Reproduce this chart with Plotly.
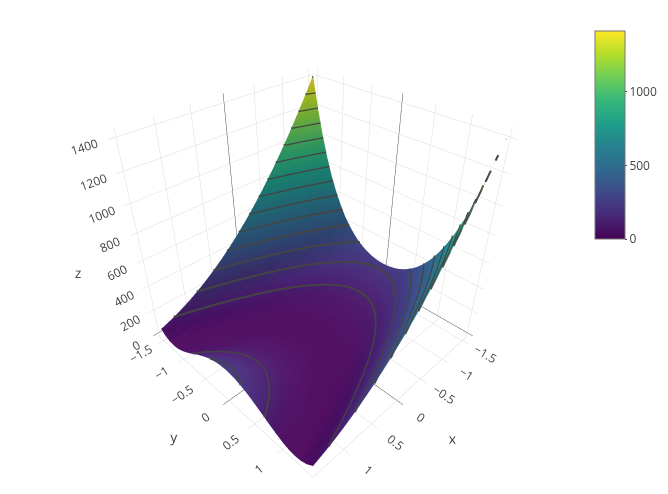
import plotly.graph_objects as go

x = [-1.5, -1.4, -1.3, -1.2, -1.1, -1.0, -0.9, -0.8, -0.7, -0.6, -0.5, -0.4, -0.3, -0.2, -0.1, 0.0,
     0.1, 0.2, 0.3, 0.4, 0.5, 0.6, 0.7, 0.8, 0.9, 1.0, 1.1, 1.2, 1.3, 1.4, 1.5]
y = list(x)
# one row per y value, one column per x value
z = [
    [1412, 1338, 1266, 1196, 1128, 1062, 998, 936, 876, 818, 762, 708, 656, 606, 558, 512, 468, 426, 386, 348, 312, 278, 246, 216, 188, 162, 138, 116, 96, 78, 62],
    [1203, 1135, 1069, 1005, 942, 882, 824, 768, 714, 661, 611, 563, 517, 473, 430, 390, 352, 316, 282, 249, 219, 191, 165, 141, 118, 98, 80, 64, 50, 37, 27],
    [1023, 960, 899, 840, 783, 729, 676, 625, 576, 529, 485, 442, 401, 362, 325, 291, 258, 227, 198, 171, 147, 124, 103, 84, 67, 53, 40, 29, 20, 13, 9],
    [869, 812, 756, 702, 650, 600, 553, 507, 463, 421, 381, 344, 308, 274, 242, 212, 185, 159, 135, 113, 93, 76, 60, 46, 34, 24, 17, 11, 7, 5, 5],
    [738, 685, 634, 585, 538, 492, 449, 408, 369, 332, 296, 263, 232, 203, 176, 150, 127, 106, 87, 70, 54, 41, 30, 21, 14, 8, 5, 4, 5, 8, 12],
    [629, 580, 533, 488, 445, 404, 365, 328, 293, 260, 229, 200, 173, 148, 125, 104, 85, 68, 53, 40, 29, 20, 13, 8, 5, 4, 5, 8, 13, 20, 29],
    [538, 492, 449, 408, 369, 332, 296, 263, 232, 203, 176, 150, 127, 106, 87, 70, 54, 41, 30, 21, 14, 8, 5, 4, 5, 8, 12, 19, 28, 39, 52],
    [461, 419, 379, 342, 306, 272, 240, 210, 183, 157, 133, 111, 91, 74, 58, 44, 32, 22, 15, 9, 5, 3, 3, 6, 10, 16, 24, 34, 47, 61, 77],
    [399, 360, 323, 289, 256, 225, 196, 169, 145, 122, 101, 82, 65, 51, 38, 27, 18, 11, 7, 4, 3, 4, 7, 13, 20, 29, 40, 53, 69, 86, 105],
    [349, 313, 279, 246, 216, 188, 162, 138, 115, 95, 77, 61, 47, 34, 24, 16, 10, 6, 3, 3, 5, 9, 15, 22, 32, 44, 58, 74, 91, 111, 133],
    [308, 274, 242, 212, 184, 158, 134, 112, 92, 74, 58, 44, 32, 22, 14, 8, 4, 2, 2, 4, 8, 14, 22, 32, 44, 58, 74, 92, 112, 134, 158],
    [278, 245, 215, 187, 161, 137, 114, 94, 76, 60, 46, 33, 23, 15, 9, 5, 2, 2, 4, 8, 14, 21, 31, 43, 57, 73, 90, 110, 132, 156, 182],
    [255, 224, 195, 168, 144, 121, 100, 81, 64, 50, 37, 26, 17, 10, 6, 3, 2, 3, 6, 12, 19, 28, 39, 52, 68, 85, 104, 125, 148, 174, 201],
    [238, 208, 181, 155, 131, 109, 89, 72, 56, 42, 30, 20, 13, 7, 3, 1, 1, 4, 8, 14, 22, 32, 45, 59, 75, 93, 113, 136, 160, 186, 214],
    [229, 200, 173, 147, 124, 103, 84, 67, 51, 38, 27, 18, 11, 5, 2, 1, 2, 5, 9, 16, 25, 36, 49, 63, 80, 99, 120, 143, 167, 194, 223],
    [226, 197, 170, 145, 122, 101, 82, 65, 50, 37, 26, 17, 10, 5, 2, 1, 2, 5, 10, 17, 26, 37, 50, 65, 82, 101, 122, 145, 170, 197, 226],
    [229, 200, 173, 147, 124, 103, 84, 67, 51, 38, 27, 18, 11, 5, 2, 1, 2, 5, 9, 16, 25, 36, 49, 63, 80, 99, 120, 143, 167, 194, 223],
    [238, 208, 181, 155, 131, 109, 89, 72, 56, 42, 30, 20, 13, 7, 3, 1, 1, 4, 8, 14, 22, 32, 45, 59, 75, 93, 113, 136, 160, 186, 214],
    [253, 222, 193, 166, 142, 119, 98, 79, 62, 48, 35, 24, 15, 8, 4, 1, 0, 1, 4, 10, 17, 26, 37, 50, 66, 83, 102, 123, 146, 172, 199],
    [276, 243, 213, 185, 159, 135, 112, 92, 74, 58, 44, 31, 21, 13, 7, 3, 0, 0, 2, 6, 12, 19, 29, 41, 55, 71, 88, 108, 130, 154, 180],
    [306, 272, 240, 210, 182, 156, 132, 110, 90, 72, 56, 42, 30, 20, 12, 6, 2, 0, 0, 2, 6, 12, 20, 30, 42, 56, 72, 90, 110, 132, 156],
    [346, 310, 276, 243, 213, 185, 159, 135, 112, 92, 74, 58, 44, 31, 21, 13, 7, 3, 0, 0, 2, 6, 12, 19, 29, 41, 55, 71, 88, 108, 130],
    [396, 357, 320, 286, 253, 222, 193, 166, 142, 119, 98, 79, 62, 48, 35, 24, 15, 8, 4, 1, 0, 1, 4, 10, 17, 26, 37, 50, 66, 83, 102],
    [458, 416, 376, 339, 303, 269, 237, 207, 180, 154, 130, 108, 88, 71, 55, 41, 29, 19, 12, 6, 2, 0, 0, 3, 7, 13, 21, 31, 44, 58, 74],
    [534, 488, 445, 404, 365, 328, 292, 259, 228, 199, 172, 146, 123, 102, 83, 66, 50, 37, 26, 17, 10, 4, 1, 0, 1, 4, 8, 15, 24, 35, 48],
    [625, 576, 529, 484, 441, 400, 361, 324, 289, 256, 225, 196, 169, 144, 121, 100, 81, 64, 49, 36, 25, 16, 9, 4, 1, 0, 1, 4, 9, 16, 25],
    [734, 681, 630, 581, 534, 488, 445, 404, 365, 328, 292, 259, 228, 199, 172, 146, 123, 102, 83, 66, 50, 37, 26, 17, 10, 4, 1, 0, 1, 4, 8],
    [864, 807, 751, 697, 645, 595, 548, 502, 458, 416, 376, 339, 303, 269, 237, 207, 180, 154, 130, 108, 88, 71, 55, 41, 29, 19, 12, 6, 2, 0, 0],
    [1018, 955, 894, 835, 778, 724, 671, 620, 571, 524, 480, 437, 396, 357, 320, 286, 253, 222, 193, 166, 142, 119, 98, 79, 62, 48, 35, 24, 15, 8, 4],
    [1197, 1129, 1063, 999, 936, 876, 818, 762, 708, 655, 605, 557, 511, 467, 424, 384, 346, 310, 276, 243, 213, 185, 159, 135, 112, 92, 74, 58, 44, 31, 21],
    [1406, 1332, 1260, 1190, 1122, 1056, 992, 930, 870, 812, 756, 702, 650, 600, 552, 506, 462, 420, 380, 342, 306, 272, 240, 210, 182, 156, 132, 110, 90, 72, 56],
]
levels = [100, 200, 300, 400, 500, 600, 700, 800, 900, 1000, 1100, 1200, 1300, 1400]


def crossing(level, x0, y0, z0, x1, y1, z1):
    t = (level - z0) / (z1 - z0)
    return x0 + t * (x1 - x0), y0 + t * (y1 - y0)


# contour segments taken from the grid above, so they can be wider than webgl allows
lx, ly, lz = [], [], []
for level in levels:
    for j in range(len(y) - 1):
        for i in range(len(x) - 1):
            corners = [(x[i], y[j], z[j][i]), (x[i + 1], y[j], z[j][i + 1]),
                       (x[i + 1], y[j + 1], z[j + 1][i + 1]), (x[i], y[j + 1], z[j + 1][i])]
            pts = []
            for k in range(4):
                a, b = corners[k], corners[(k + 1) % 4]
                if (a[2] < level) != (b[2] < level):
                    pts.append(crossing(level, *a, *b))
            for k in range(0, len(pts) - 1, 2):
                lx += [pts[k][0], pts[k + 1][0], None]
                ly += [pts[k][1], pts[k + 1][1], None]
                lz += [level + 3, level + 3, None]

fig = go.Figure()
fig.add_trace(go.Surface(
    x=x, y=y, z=z,
    colorscale="Viridis",
    colorbar=dict(thickness=30, len=0.5, y=1, yanchor="top", outlinecolor="#777",
                  ticks="outside", ticklen=2, tickcolor="#444"),
))
fig.add_trace(go.Scatter3d(
    x=lx, y=ly, z=lz, mode="lines",
    line=dict(color="#444", width=4),
    hoverinfo="skip", showlegend=False,
))
fig.update_layout(
    template="none",
    width=668, height=494,
    margin=dict(l=43, r=8, t=13, b=25),
    font=dict(family="Open Sans", size=12, color="#444"),
    scene=dict(
        xaxis=dict(title="x", gridcolor="#ddd", zerolinecolor="#444"),
        yaxis=dict(title="y", gridcolor="#ddd", zerolinecolor="#444"),
        zaxis=dict(title="z", gridcolor="#ddd", zerolinecolor="#444"),
    ),
)
fig.write_html("out.html")
